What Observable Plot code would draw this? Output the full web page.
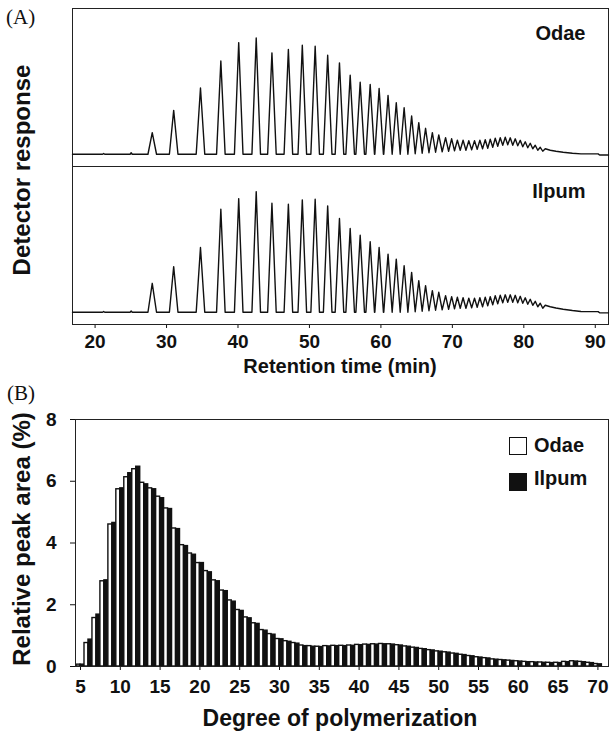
<!DOCTYPE html>
<html><head><meta charset="utf-8">
<script src="https://cdn.jsdelivr.net/npm/d3@7"></script>
<script src="https://cdn.jsdelivr.net/npm/@observablehq/plot@0.6"></script>
<style>
body{margin:0;background:#fff;}
#wrap{position:relative;width:613px;height:734px;overflow:hidden;font-family:"Liberation Sans",Arial,sans-serif;color:#111;}
.panel{position:absolute;left:0;}
.tag{position:absolute;font-family:"Liberation Serif","Times New Roman",serif;font-size:21px;line-height:1;}
.lab{position:absolute;font-weight:bold;white-space:nowrap;line-height:1;transform:translate(-50%,-50%);}
.ylab{transform:translate(-50%,-50%) rotate(-90deg);}
.sw{position:absolute;width:18px;height:18px;border:1.5px solid #111;box-sizing:border-box;}
.lt{position:absolute;font-weight:bold;font-size:20px;line-height:1;transform:translateY(-50%);}
</style></head>
<body>
<div id="wrap"></div>
<script>
// ---------- Panel A data: chromatogram peaks (retention time, min; detector response, arbitrary units) ----------
const retTicks = [20, 30, 40, 50, 60, 70, 80, 90];
const samples = ["Odae", "Ilpum"];
const peakTime = [28.0, 31.0, 34.75, 37.6, 40.1, 42.55, 44.75, 47.05, 49.0, 50.8, 52.55, 54.2, 55.7, 57.1, 58.5,
  59.75, 61.0, 62.15, 63.25, 64.3, 65.3, 66.25, 67.2, 68.1, 69.05, 69.9,
  70.7, 71.5, 72.3, 73.1, 73.85, 74.6, 75.3, 76.0, 76.7, 77.4, 78.1, 78.8, 79.5, 80.2, 80.9, 81.6, 82.3, 83.0];
const odaePeak = [21.7, 44, 66.5, 93.5, 112, 116.7, 101.7, 105, 109.3, 108.3, 99.3, 91.7, 79.3, 72.3, 70,
  66, 59, 51.7, 46.7, 38.3, 31.7, 26, 21.7, 19.3, 16.7, 15.5,
  14, 14, 13.5, 13.5, 14, 14.5, 15, 16, 16.5, 17, 16.5, 15.5, 14, 12.5, 11, 9, 7, 5.5];
const ilpumPeak = [29, 45.7, 65, 103.3, 114, 121, 109.3, 108.3, 112.7, 113.3, 106.7, 94, 84, 77.3, 70.7,
  65, 58.3, 53.3, 46.7, 40, 31.7, 26.7, 21.7, 20, 16.7, 15.7,
  15, 14.5, 14, 14, 14.5, 15, 15.5, 16.5, 17, 17.5, 17.5, 17, 16, 14.5, 13, 11, 9, 7];
// trough level between consecutive peaks
const odaeValley = [0,0,0,0,0,0,0,0,0,0,0,0,0,0,0,0,0,0,0, 0.5, 1, 1.5, 2, 2.5, 3,
  3.5, 4, 4, 4.5, 5, 5.5, 6, 7, 8, 9, 9.5, 9, 8.5, 7.5, 6.5, 5.5, 4, 3];
const ilpumValley = [0,0,0,0,0,0,0,0,0,0,0,0,0,0,0,0,0,0,0, 0.5, 1, 1.5, 2, 2.5, 3,
  3.5, 4, 4, 4.5, 5, 5.5, 6.5, 7.5, 8.5, 9.5, 10, 10, 9.5, 9, 8, 7, 5.5, 4];
// baseline before the first peak and the tail after the last one
const leadTime = [16.84, 21.05, 21.2, 21.35, 24.9, 25.05, 25.2];
const odaeLead = [0, 0, 0.8, 0, 0, 1.5, 0];
const ilpumLead = [0, 0, 0.8, 0, 0, 1.2, 0];
const tailTime = [83.7, 84.5, 85.5, 86.8, 88.0, 90.4, 90.6, 91.85];
const odaeTail = [4, 3, 2, 1, 0.4, 0.4, -0.8, -0.8];
const ilpumTail = [5.5, 4.2, 3, 1.7, 0.8, 0.6, -0.6, -0.6];

// ---------- Panel B data: relative peak area (%) by degree of polymerization ----------
const dp = d3.range(5, 71);
const dpTicks = [5, 10, 15, 20, 25, 30, 35, 40, 45, 50, 55, 60, 65, 70];
const odaeArea = [0.06, 0.76, 1.57, 2.76, 4.6, 5.74, 6.13, 6.39, 5.95, 5.77, 5.5, 5.12, 4.47, 3.93, 3.66,
  3.35, 3.09, 2.79, 2.46, 2.14, 1.83, 1.59, 1.40, 1.18, 1.05, 0.89, 0.82, 0.76, 0.68, 0.66,
  0.64, 0.66, 0.67, 0.67, 0.68, 0.70, 0.71, 0.72, 0.73, 0.72, 0.69, 0.65, 0.61, 0.57, 0.53,
  0.49, 0.46, 0.42, 0.38, 0.34, 0.30, 0.27, 0.23, 0.21, 0.19, 0.17, 0.15, 0.14, 0.13, 0.12,
  0.12, 0.15, 0.17, 0.15, 0.12, 0.08];
const ilpumArea = [0.06, 0.87, 1.68, 2.79, 4.65, 5.77, 6.26, 6.47, 5.9, 5.74, 5.45, 5.1, 4.45, 3.9, 3.62,
  3.35, 3.05, 2.76, 2.44, 2.1, 1.8, 1.56, 1.38, 1.16, 1.03, 0.88, 0.80, 0.74, 0.66, 0.64,
  0.63, 0.65, 0.66, 0.66, 0.67, 0.69, 0.70, 0.71, 0.72, 0.71, 0.68, 0.64, 0.60, 0.56, 0.52,
  0.48, 0.45, 0.41, 0.37, 0.33, 0.29, 0.26, 0.22, 0.20, 0.18, 0.16, 0.14, 0.13, 0.12, 0.11,
  0.11, 0.14, 0.16, 0.14, 0.11, 0.07];

// ---------- build chromatogram trace rows ----------
const HALF = 0.6; // peak half-width at base (min)
function buildTrace(sample, peaks, valleys, lead, tail) {
  const rows = lead.map((r, i) => ({sample, t: leadTime[i], r}));
  const n = peakTime.length;
  peakTime.forEach((t, i) => {
    if (i > 0) rows.push({sample, t: t - Math.min(HALF, (t - peakTime[i - 1]) / 2), r: valleys[i - 1]});
    else rows.push({sample, t: t - HALF, r: 0});
    rows.push({sample, t, r: peaks[i]});
    if (i < n - 1) rows.push({sample, t: t + Math.min(HALF, (peakTime[i + 1] - t) / 2), r: valleys[i]});
  });
  tail.forEach((r, i) => rows.push({sample, t: tailTime[i], r}));
  return rows;
}
const trace = [
  ...buildTrace("Odae", odaePeak, odaeValley, odaeLead, odaeTail),
  ...buildTrace("Ilpum", ilpumPeak, ilpumValley, ilpumLead, ilpumTail)
];

const font = "Liberation Sans, Arial, sans-serif";
const wrap = document.getElementById("wrap");

const chartA = Plot.plot({
  width: 613, height: 370,
  marginTop: 7, marginBottom: 46, marginLeft: 72, marginRight: 5,
  style: {fontFamily: font, fontWeight: "bold", fontSize: "19px", color: "#111", background: "transparent"},
  x: {domain: [16.84, 91.85], ticks: retTicks, tickFormat: d => d, tickSize: 4, tickPadding: 6, label: null},
  y: {domain: [-12.3, 146.2], axis: null},
  fy: {domain: samples, axis: null, padding: 0},
  marks: [
    Plot.frame({stroke: "#222", strokeWidth: 1}),
    Plot.line(trace, {x: "t", y: "r", fy: "sample", stroke: "#111", strokeWidth: 1.4}),
    Plot.text(samples, {fy: d => d, text: d => d, frameAnchor: "top-right", textAnchor: "end", lineAnchor: "middle",
      dx: -23, dy: 25, fontSize: 20, fontWeight: "bold", fill: "#111"})
  ]
});
chartA.classList.add("panel"); chartA.style.top = "0px";
wrap.appendChild(chartA);

const bars = dp.flatMap((d, i) => [
  {series: "Odae", x1: d - 0.5, x2: d, v: odaeArea[i]},
  {series: "Ilpum", x1: d, x2: d + 0.5, v: ilpumArea[i]}
]);

const chartB = Plot.plot({
  width: 613, height: 364,
  marginTop: 49, marginBottom: 68, marginLeft: 75, marginRight: 5,
  style: {fontFamily: font, fontWeight: "bold", fontSize: "19px", color: "#111", background: "transparent"},
  x: {domain: [4.37, 71.33], ticks: dpTicks, tickFormat: d => d, tickSize: 4, tickPadding: 9, label: null},
  y: {domain: [0, 8], ticks: [0, 2, 4, 6, 8], tickFormat: d => d, tickSize: 5, tickPadding: 14, label: null},
  color: {domain: ["Odae", "Ilpum"], range: ["white", "#111"]},
  marks: [
    Plot.rectY(bars, {x1: "x1", x2: "x2", y: "v", fill: "series", stroke: "#111", strokeWidth: 1.4}),
    Plot.frame({stroke: "#222", strokeWidth: 1})
  ]
});
chartB.classList.add("panel"); chartB.style.top = "370px";
wrap.appendChild(chartB);

// ---------- titles, panel tags, legend ----------
function add(cls, text, css) {
  const el = document.createElement("div");
  el.className = cls; el.textContent = text;
  Object.assign(el.style, css);
  wrap.appendChild(el);
  return el;
}
add("tag", "(A)", {left: "6px", top: "7px"});
add("tag", "(B)", {left: "7px", top: "383px"});
add("lab ylab", "Detector response", {left: "22px", top: "170px", fontSize: "24px"});
add("lab", "Retention time (min)", {left: "340px", top: "366px", fontSize: "20px"});
add("lab ylab", "Relative peak area (%)", {left: "22px", top: "539px", fontSize: "24px"});
add("lab", "Degree of polymerization", {left: "340px", top: "718px", fontSize: "23px"});
add("sw", "", {left: "509px", top: "437px", background: "#fff"});
add("sw", "", {left: "509px", top: "473px", background: "#111"});
add("lt", "Odae", {left: "534px", top: "445px"});
add("lt", "Ilpum", {left: "534px", top: "478px"});
</script>
</body></html>
